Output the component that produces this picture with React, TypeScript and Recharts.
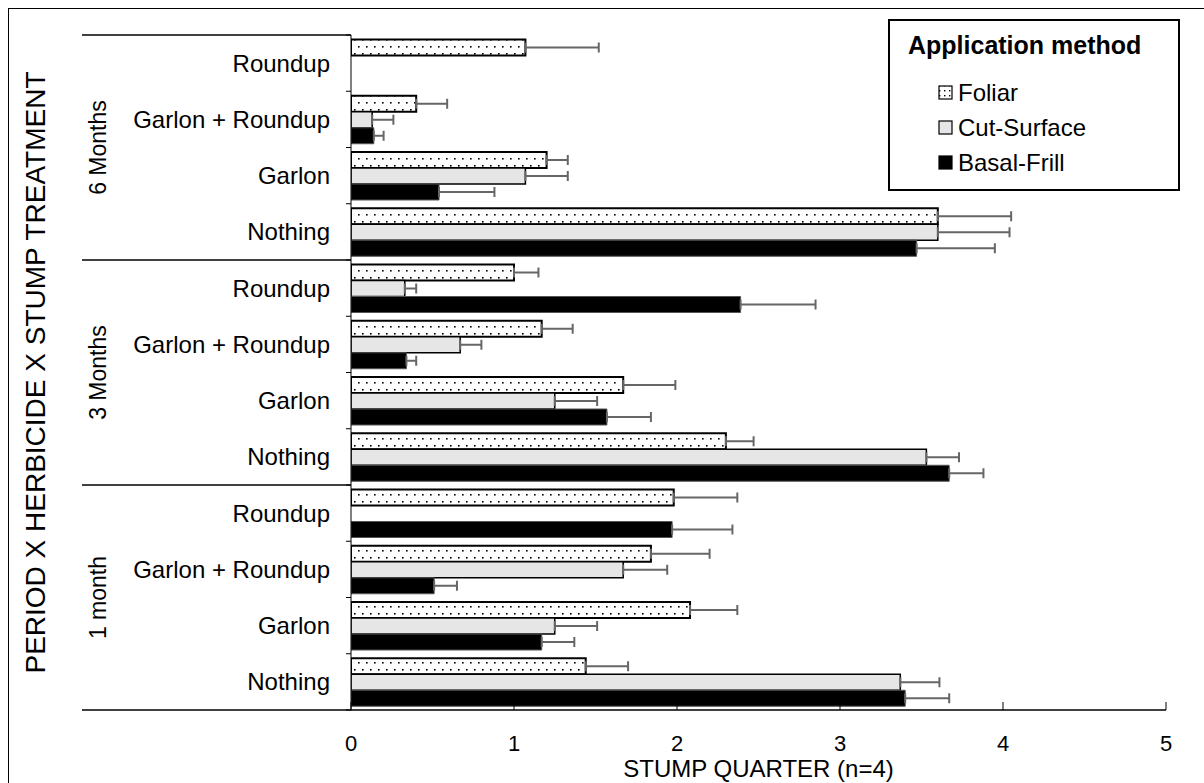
import React from "react";
import { BarChart, Bar, XAxis, YAxis, ErrorBar, Legend } from "recharts";

const periods = ["6 Months", "3 Months", "1 month"];
const treatments = ["Roundup", "Garlon + Roundup", "Garlon", "Nothing"];
const xTicks = [0, 1, 2, 3, 4, 5];

// rows run top to bottom: 6 Months (Roundup..Nothing), 3 Months, 1 month
const foliar = [1.07, 0.4, 1.2, 3.6, 1.0, 1.17, 1.67, 2.3, 1.98, 1.84, 2.08, 1.44];
const foliarErr = [0.45, 0.19, 0.13, 0.45, 0.15, 0.19, 0.32, 0.17, 0.39, 0.36, 0.29, 0.26];
const cut = [null, 0.13, 1.07, 3.6, 0.33, 0.67, 1.25, 3.53, null, 1.67, 1.25, 3.37];
const cutErr = [null, 0.13, 0.26, 0.44, 0.07, 0.13, 0.26, 0.2, null, 0.27, 0.26, 0.24];
const basal = [null, 0.14, 0.54, 3.47, 2.39, 0.34, 1.57, 3.67, 1.97, 0.51, 1.17, 3.4];
const basalErr = [null, 0.06, 0.34, 0.48, 0.46, 0.06, 0.27, 0.21, 0.37, 0.14, 0.2, 0.27];

const data = periods.flatMap((p, pi) =>
  treatments.map((t, ti) => {
    const i = pi * treatments.length + ti;
    return {
      key: `${p} / ${t}`,
      period: p,
      treatment: t,
      foliar: foliar[i],
      foliarErr: foliarErr[i],
      cut: cut[i],
      cutErr: cutErr[i],
      basal: basal[i],
      basalErr: basalErr[i],
    };
  })
);

const W = 1195;
const H = 774;
const Y_W = 342;
const X_H = 73;
const TOP = 26;
const BOTTOM = H - X_H;
const BAND = (BOTTOM - TOP) / data.length;
const SEP_X = 73;
const FONT = "'Liberation Sans', Arial, sans-serif";

const oneSided = (k: string) => (d: any) => (d[k] == null ? undefined : [0, d[k]]);

function YTick(props: any) {
  const { y, payload } = props;
  const i = data.findIndex((d) => d.key === payload.value);
  if (i < 0) return null;
  const row = data[i];
  const top = y - BAND / 2;
  const bottom = y + BAND / 2;
  const last = i === data.length - 1;
  return (
    <g fontFamily={FONT}>
      <line x1={Y_W - 5} x2={Y_W} y1={top} y2={top} stroke="#000" />
      {last && <line x1={Y_W - 5} x2={Y_W} y1={bottom} y2={bottom} stroke="#000" />}
      {i % 4 === 0 && (
        <>
          <line x1={SEP_X} x2={Y_W} y1={top} y2={top} stroke="#000" strokeWidth={1.5} />
          <text
            x={89}
            y={top + 2 * BAND}
            transform={`rotate(-90 89 ${top + 2 * BAND})`}
            textAnchor="middle"
            dominantBaseline="central"
            fontSize={23}
            fill="#000"
          >
            {row.period}
          </text>
        </>
      )}
      {last && <line x1={SEP_X} x2={Y_W} y1={bottom} y2={bottom} stroke="#000" strokeWidth={1.5} />}
      <text x={Y_W - 21} y={y} textAnchor="end" dominantBaseline="central" fontSize={24} fill="#000">
        {row.treatment}
      </text>
    </g>
  );
}

function XTick(props: any) {
  const { x, payload } = props;
  return (
    <g fontFamily={FONT}>
      <line x1={x} x2={x} y1={BOTTOM - 8} y2={BOTTOM} stroke="#000" />
      <text x={x} y={BOTTOM + 41} textAnchor="middle" fontSize={22} fill="#000">
        {payload.value}
      </text>
    </g>
  );
}

const legendItems = [
  { name: "Foliar", fill: "url(#dotsLegend)", stroke: "#000" },
  { name: "Cut-Surface", fill: "#e6e6e6", stroke: "#000" },
  { name: "Basal-Frill", fill: "#000", stroke: "#000" },
];

function LegendBox() {
  return (
    <svg width={292} height={172} style={{ display: "block", fontFamily: FONT }}>
      <defs>
        <pattern id="dotsLegend" width={5} height={5} patternUnits="userSpaceOnUse">
          <rect width={5} height={5} fill="#fff" />
          <rect x={1} y={1} width={1.4} height={1.4} fill="#000" />
        </pattern>
      </defs>
      <rect x={1} y={1} width={290} height={170} fill="#fff" stroke="#000" strokeWidth={2} />
      <text x={20} y={35} fontSize={25} fontWeight="bold" fill="#000">
        Application method
      </text>
      {legendItems.map((it, k) => {
        const base = 82 + k * 35;
        return (
          <g key={it.name}>
            <rect x={51} y={base - 15} width={13} height={13} fill={it.fill} stroke={it.stroke} strokeWidth={1.2} />
            <text x={70} y={base} fontSize={24} fill="#000">
              {it.name}
            </text>
          </g>
        );
      })}
    </svg>
  );
}

export default function App() {
  return (
    <div
      style={{
        position: "absolute",
        left: 8,
        top: 8,
        width: W,
        height: H,
        borderLeft: "1px solid #000",
        borderTop: "1px solid #000",
        background: "#fff",
      }}
    >
      <BarChart
        width={W}
        height={H}
        data={data}
        layout="vertical"
        margin={{ top: TOP, right: 38, left: 0, bottom: 0 }}
        barCategoryGap="8%"
        barGap={0}
      >
        <defs>
          <pattern id="dots" width={8} height={14} patternUnits="userSpaceOnUse">
            <rect width={8} height={14} fill="#fff" />
            <rect x={1} y={2} width={1.6} height={1.6} fill="#000" />
            <rect x={5} y={9} width={1.6} height={1.6} fill="#000" />
          </pattern>
        </defs>
        <XAxis
          type="number"
          domain={[0, 5]}
          ticks={xTicks}
          allowDataOverflow
          height={X_H}
          tickLine={false}
          axisLine={{ stroke: "#000", strokeWidth: 1.5 }}
          tick={(p: any) => <XTick {...p} />}
          interval={0}
          label={{
            value: "STUMP QUARTER (n=4)",
            position: "insideBottom",
            offset: 6,
            style: { fontFamily: FONT, fontSize: 24, fill: "#000" },
          }}
        />
        <YAxis
          type="category"
          dataKey="key"
          width={Y_W}
          tickLine={false}
          axisLine={{ stroke: "#000" }}
          interval={0}
          tick={(p: any) => <YTick {...p} />}
          label={{
            content: () => (
              <text
                x={26}
                y={(TOP + BOTTOM) / 2}
                transform={`rotate(-90 26 ${(TOP + BOTTOM) / 2})`}
                textAnchor="middle"
                dominantBaseline="central"
                fontFamily={FONT}
                fontSize={28}
                fill="#000"
              >
                PERIOD X HERBICIDE X STUMP TREATMENT
              </text>
            ),
          }}
        />
        <Legend
          layout="horizontal"
          verticalAlign="middle"
          align="center"
          content={() => <LegendBox />}
          wrapperStyle={{ position: "absolute", top: 10, left: 879, width: 292, height: 172 }}
        />
        <Bar dataKey="foliar" name="Foliar" fill="url(#dots)" stroke="#000" strokeWidth={2} isAnimationActive={false}>
          <ErrorBar dataKey={oneSided("foliarErr")} direction="x" width={5} stroke="#666" strokeWidth={2} />
        </Bar>
        <Bar dataKey="cut" name="Cut-Surface" fill="#e6e6e6" stroke="#000" strokeWidth={1.5} isAnimationActive={false}>
          <ErrorBar dataKey={oneSided("cutErr")} direction="x" width={5} stroke="#666" strokeWidth={2} />
        </Bar>
        <Bar dataKey="basal" name="Basal-Frill" fill="#000" stroke="#555" strokeWidth={1} isAnimationActive={false}>
          <ErrorBar dataKey={oneSided("basalErr")} direction="x" width={5} stroke="#666" strokeWidth={2} />
        </Bar>
      </BarChart>
    </div>
  );
}
